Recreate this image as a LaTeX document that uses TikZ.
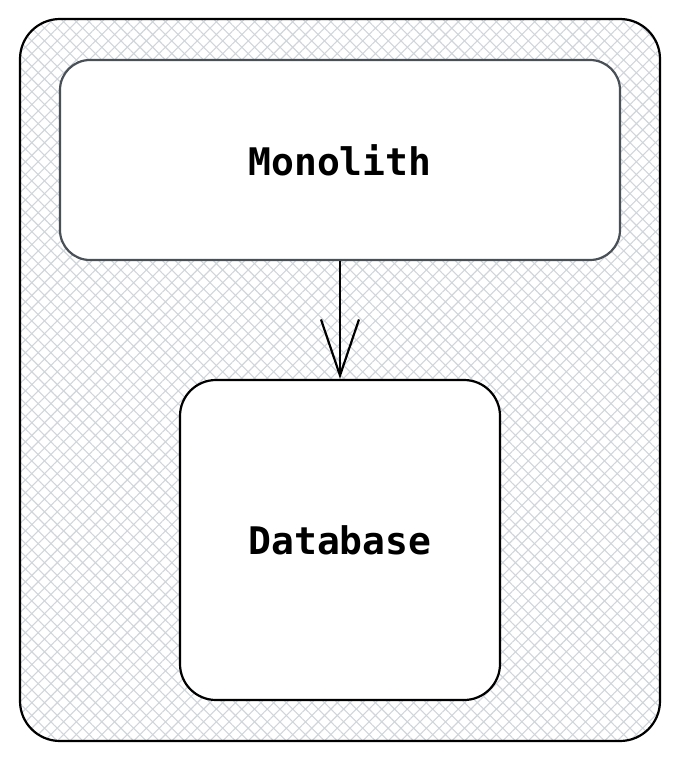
\documentclass[tikz,border=0pt]{standalone}
\usepackage{fontspec}
\setmonofont{DejaVu Sans Mono}
\usetikzlibrary{arrows.meta,patterns.meta}

\definecolor{hatchgray}{HTML}{D0D5DA}
\definecolor{boxgray}{HTML}{495057}

\tikzset{
  frame/.style={draw=black,line width=2.2pt,rounded corners=40pt,
    minimum width=640pt,minimum height=722pt},
  part/.style={draw,line width=2.2pt,fill=white,font=\ttfamily\bfseries\fontsize{38}{42}\selectfont},
  link/.style={line width=2.2pt,-{Straight Barb[length=56pt,width=38pt,line width=2.2pt]}}
}

\begin{document}
\begin{tikzpicture}[x=1pt,y=-1pt]
\useasboundingbox (0,0) rectangle (680,760);

% hatched background of the outer box
\fill[pattern={Lines[angle=45,distance=9pt,line width=1.1pt]},pattern color=hatchgray,rounded corners=40pt] (20,19) rectangle (660,741);
\fill[pattern={Lines[angle=-45,distance=9pt,line width=1.1pt]},pattern color=hatchgray,rounded corners=40pt] (20,19) rectangle (660,741);
\node[frame] (sys) at (340,380) {};

\node[part,draw=boxgray,rounded corners=30pt,minimum width=560pt,minimum height=200pt] (mono) at (340,160) {Monolith};
\node[part,draw=black,rounded corners=36pt,minimum width=320pt,minimum height=320pt] (db) at (340,540) {Database};

\draw[link] (mono) -- (db);

\end{tikzpicture}
\end{document}
